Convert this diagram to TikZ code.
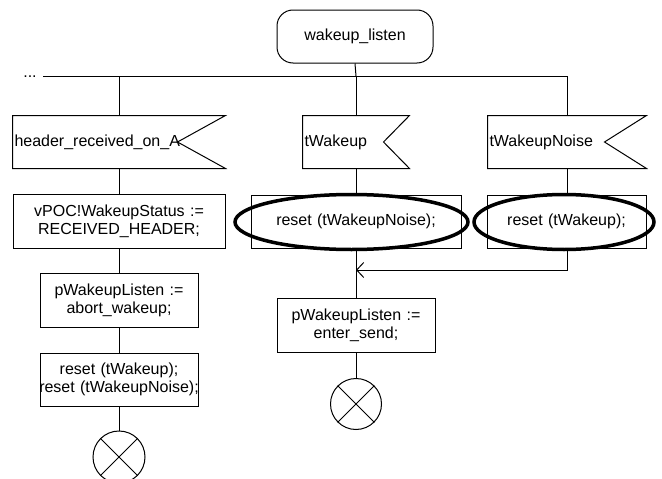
\documentclass[tikz,border=0pt]{standalone}
\usepackage{fontspec}
\setmainfont{Liberation Sans}
\usetikzlibrary{shapes.geometric,arrows.meta}
\newcommand\inshape[2]{\draw (#1.north west) -- (#1.north east) -- ([xshift=-#2pt]#1.east) -- (#1.south east) -- (#1.south west) -- cycle;}
\newcommand\stopx[1]{\draw (#1.north west) -- (#1.south east) (#1.north east) -- (#1.south west);}
\begin{document}
\begin{tikzpicture}[x=1pt,y=-1pt,line width=1pt,
  font=\fontsize{16pt}{18pt}\selectfont,
  taskbox/.style={draw, rectangle, inner xsep=0pt, inner ysep=0pt, align=center},
  sig/.style={rectangle, inner xsep=1.5pt, inner ysep=0pt, align=left, minimum height=52pt},
  stopsym/.style={circle, draw, minimum size=#1, inner sep=0pt},
  hilite/.style={ellipse, draw, line width=3.5pt, inner sep=0pt}]
\clip (0,0) rectangle (662,479);
\fill[white] (0,0) rectangle (662,479);

% state
\node[draw, rectangle, rounded corners=16pt, minimum width=156pt, minimum height=53pt, inner sep=0pt] (st) at (355,36.5) {wakeup\_listen};
\coordinate (bus) at (356,76);
\coordinate (busL) at (43,76);
\coordinate (busR) at (567,76);
\node[anchor=base, inner sep=0pt] (dots) at (30,77) {...};

% inputs
\node[sig, text width=209pt] (inA) at (119,142) {header\_received\_on\_A};
\node[sig, text width=103pt] (inB) at (356,142) {tWakeup};
\node[sig, text width=155pt] (inC) at (567,142) {tWakeupNoise};
\inshape{inA}{48}
\inshape{inB}{26}
\inshape{inC}{42}

% tasks
\node[taskbox, text width=212pt, minimum height=54pt] (A1) at (119,221) {vPOC!WakeupStatus :=\\RECEIVED\_HEADER;};
\node[taskbox, text width=158pt, minimum height=54pt] (A2) at (119,300) {pWakeupListen :=\\abort\_wakeup;};
\node[taskbox, text width=158pt, minimum height=53pt] (A3) at (119,379.5) {\makebox[158pt]{reset (tWakeup);}\\\makebox[158pt]{reset (tWakeupNoise);}};
\node[stopsym=52pt] (SA) at (119,457) {};
\stopx{SA}

\node[taskbox, text width=210pt, minimum height=53pt] (B1) at (356,221.5) {reset (tWakeupNoise);};
\node[taskbox, text width=159pt, minimum height=53pt] (C1) at (566.5,221.5) {reset (tWakeup);};
\node[taskbox, text width=158pt, minimum height=54pt] (B2) at (356,325) {pWakeupListen :=\\enter\_send;};
\node[stopsym=51pt] (SB) at (356,404) {};
\stopx{SB}
\coordinate (m) at (356,270);

% connectors
\draw (st.south) -- (bus);
\draw (busL) -- (busR);
\draw (inA.north |- bus) -- (inA.north);
\draw (bus) -- (inB.north);
\draw (busR) -- (inC.north);
\draw (inA.south) -- (A1.north);
\draw (A1.south) -- (A2.north);
\draw (A2.south) -- (A3.north);
\draw (A3.south) -- (SA.north);
\draw (inB.south) -- (B1.north);
\draw (inC.south) -- (inC.south |- C1.north);
\draw (B1.south) -- (B2.north);
\draw[-{Straight Barb[length=7pt,width=15pt]}] (inC.south |- C1.south) |- (m);
\draw (B2.south) -- (SB.north);

% highlight ellipses
\node[hilite, minimum width=233pt, minimum height=55pt] (E1) at (351.5,222) {};
\node[hilite, minimum width=180pt, minimum height=55pt] (E2) at (564,222) {};
\end{tikzpicture}
\end{document}
